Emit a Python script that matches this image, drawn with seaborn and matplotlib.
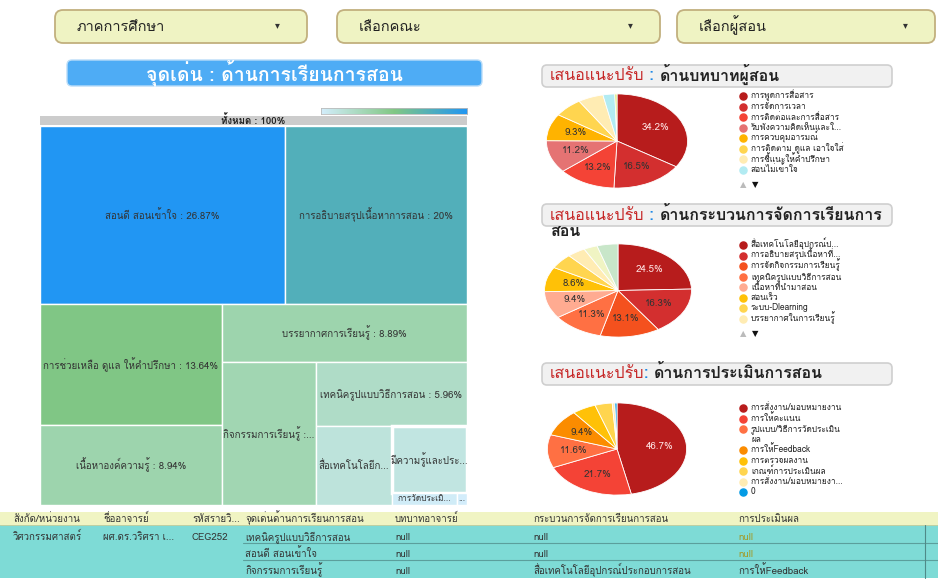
import matplotlib
matplotlib.use('Agg')
import matplotlib.pyplot as plt
from matplotlib import font_manager, ft2font
from matplotlib.patches import FancyBboxPatch, Rectangle
import numpy as np
import seaborn as sns

# ---- data ----
filters = ['ภาคการศึกษา', 'เลือกคณะ', 'เลือกผู้สอน']

tm_labels = ['สอนดี สอนเข้าใจ : 26.87%', 'การอธิบายสรุปเนื้อหาการสอน : 20%',
             'การช่วยเหลือ ดูแล ให้คำปรึกษา : 13.64%', 'เนื้อหาองค์ความรู้ : 8.94%',
             'บรรยากาศการเรียนรู้ : 8.89%', 'กิจกรรมการเรียนรู้ :...',
             'เทคนิครูปแบบวิธีการสอน : 5.96%', 'สื่อเทคโนโลยีก...',
             'มีความรู้และประ...', 'การวัดประเมิ...', '...']
tm_values = [26.87, 20, 13.64, 8.94, 8.89, 8.3, 5.96, 3.7, 3.1, 0.5, 0.08]

p1_labels = ['การพูดการสื่อสาร', 'การจัดการเวลา', 'การติดต่อและการสื่อสาร',
             'รับฟังความคิดเห็นและใ...', 'การควบคุมอารมณ์', 'การติดตาม ดูแล เอาใจใส่',
             'การชี้แนะให้คำปรึกษา', 'สอนไม่เข้าใจ', 'อื่นๆ']
p1_values = [34.2, 16.5, 13.2, 11.2, 9.3, 6.6, 5.8, 2.7, 0.5]
p1_colors = ['#b71c1c', '#d32f2f', '#f44336', '#e57373', '#ffb300', '#ffd54f',
             '#ffecb3', '#b2ebf2', '#dce775']

p2_labels = ['สื่อเทคโนโลยีอุปกรณ์ป...', 'การอธิบายสรุปเนื้อหาที่...',
             'การจัดกิจกรรมการเรียนรู้', 'เทคนิครูปแบบวิธีการสอน', 'เนื้อหาที่นำมาสอน',
             'สอนเร็ว', 'ระบบ-Dlearning', 'บรรยากาศในการเรียนรู้', 'อื่นๆ', 'อื่นๆ 2']
p2_values = [24.5, 16.3, 13.1, 11.3, 9.4, 8.6, 5.2, 4.0, 3.0, 4.6]
p2_colors = ['#b71c1c', '#d32f2f', '#f4511e', '#ff7043', '#ffab91', '#ffc107',
             '#ffd54f', '#ffecb3', '#f0f4c3', '#c8e6c9']

p3_labels = ['การสั่งงาน/มอบหมายงาน', 'การให้คะแนน', 'รูปแบบ/วิธีการวัดประเมิน\nผล',
             'การให้Feedback', 'การตรวจผลงาน', 'เกณฑ์การประเมินผล',
             'การสั่งงาน/มอบหมายงา...', '0']
p3_values = [46.7, 21.7, 11.6, 9.4, 5.5, 4.0, 0.6, 0.5]
p3_colors = ['#b71c1c', '#f44336', '#ff7043', '#fb8c00', '#ffc107', '#ffd54f',
             '#ffecb3', '#039be5']

tbl_cols = ['สังกัด/หน่วยงาน', 'ชื่ออาจารย์', 'รหัสรายวิ...', 'จุดเด่นด้านการเรียนการสอน',
            'บทบาทอาจารย์', 'กระบวนการจัดการเรียนการสอน', 'การประเมินผล']
tbl_rows = [['วิศวกรรมศาสตร์', 'ผศ.ดร.วริศรา เ...', 'CEG252', 'เทคนิครูปแบบวิธีการสอน', 'null', 'null', 'null'],
            ['', '', '', 'สอนดี สอนเข้าใจ', 'null', 'null', 'null'],
            ['', '', '', 'กิจกรรมการเรียนรู้', 'null', 'สื่อเทคโนโลยีอุปกรณ์ประกอบการสอน', 'การให้Feedback']]

# ---- fonts ----
sns.set_theme(style='white')


def thai_families():
    fams = []
    for f in font_manager.fontManager.ttflist:
        if f.name in fams:
            continue
        try:
            cmap = ft2font.FT2Font(f.fname).get_charmap()
        except Exception:
            continue
        if 0x0E01 in cmap and 0x0E48 in cmap:
            fams.append(f.name)
    return fams


thai = thai_families()
plt.rcParams['font.family'] = thai[:1] + ['DejaVu Sans']

W, H = 938, 581
fig = plt.figure(figsize=(W / 100, H / 100), dpi=100)
fig.patch.set_facecolor('white')


def place(x0, y0, x1, y1):
    return [x0 / W, 1 - y1 / H, (x1 - x0) / W, (y1 - y0) / H]


bg = fig.add_axes([0, 0, 1, 1])
bg.set_xlim(0, W)
bg.set_ylim(H, 0)
bg.axis('off')

# filter dropdowns
for name, (x0, x1) in zip(filters, [(55, 307), (337, 660), (677, 935)]):
    bg.add_patch(FancyBboxPatch((x0, 10), x1 - x0, 33, boxstyle='round,pad=0,rounding_size=8',
                                fc='#eff3c3', ec='#c2b07e', lw=1.3))
    bg.text(x0 + 22, 31, name, fontsize=10.5, color='#222222', va='baseline')
    bg.text(x1 - 30, 26, '▾', fontsize=7, color='#333333', va='center', ha='center')

# treemap title
bg.add_patch(FancyBboxPatch((67, 60), 415, 26, boxstyle='round,pad=0,rounding_size=5',
                            fc='#4eacf5', ec='#b9dcf8', lw=1))
bg.text(274, 80, 'จุดเด่น : ด้านการเรียนการสอน', fontsize=14, color='white',
        weight='bold', ha='center', va='baseline')

# treemap colour scale
vmin, vmax = min(tm_values), max(tm_values)
cmap = sns.blend_palette(['#d3edfb', '#81c784', '#2196f3'], as_cmap=True)
cax = fig.add_axes(place(321, 108, 467, 114))
cax.imshow(np.linspace(0, 1, 200)[None, :], aspect='auto', cmap=cmap)
cax.set_xticks([])
cax.set_yticks([])
for s in cax.spines.values():
    s.set_color('#bbbbbb')
    s.set_linewidth(0.6)

bg.add_patch(Rectangle((40, 116), 427, 9, fc='#cccccc', ec='none'))
bg.text(253, 120.5, 'ทั้งหมด : 100%', fontsize=7, weight='bold', color='#222222',
        ha='center', va='center')

# treemap: strips laid out in the order of the values
plan = [(2, 'row'), (2, 'col'), (1, 'row'), (1, 'col'), (1, 'row'), (1, 'col'), (1, 'row'), (2, 'row')]


def strip_layout(values, plan):
    x0, y0, w, h = 0.0, 0.0, 1.0, 1.0
    out, i = [], 0
    for n, kind in plan:
        grp = values[i:i + n]
        frac = sum(grp) / sum(values[i:])
        if kind == 'row':
            sh, cx = h * frac, x0
            for v in grp:
                cw = w * v / sum(grp)
                out.append((cx, y0, cw, sh))
                cx += cw
            y0, h = y0 + sh, h - sh
        else:
            sw, cy = w * frac, y0
            for v in grp:
                ch = h * v / sum(grp)
                out.append((x0, cy, sw, ch))
                cy += ch
            x0, w = x0 + sw, w - sw
        i += n
    return out


tax = fig.add_axes(place(40, 126, 467, 505))
tax.set_xlim(0, 1)
tax.set_ylim(1, 0)
tax.axis('off')
for (x, y, w, h), v, lab in zip(strip_layout(tm_values, plan), tm_values, tm_labels):
    t = (v - vmin) / (vmax - vmin)
    lw = 2.5 if lab.startswith('มีความรู้') else 1
    tax.add_patch(Rectangle((x, y), w, h, fc=cmap(t), ec='white', lw=lw))
    fs = 7 if h > 0.05 else 6
    tax.text(x + w / 2, y + h / 2, lab, fontsize=fs, color='#333333', ha='center', va='center')


# pies
def rich_text(x, y, parts, size):
    fig.canvas.draw()
    r = fig.canvas.get_renderer()
    for txt, col, wt in parts:
        t = bg.text(x, y, txt, color=col, weight=wt, fontsize=size, va='baseline')
        ext = t.get_window_extent(r)
        x = bg.transData.inverted().transform((ext.x1, ext.y0))[0]


def title_box(y0, lines, size=11.5):
    bg.add_patch(FancyBboxPatch((542, y0), 350, 22, boxstyle='round,pad=0,rounding_size=5',
                                fc='#f1f1f1', ec='#cfcfcf', lw=1.2))
    for j, parts in enumerate(lines):
        rich_text(550, y0 + 15.5 + j * 17, parts, size)


def pie_panel(box, values, colors, labels, leg_y, arrows=True):
    ax = fig.add_axes(place(*box))
    wedges, _ = ax.pie(values, colors=colors, startangle=90, counterclock=False,
                       wedgeprops=dict(edgecolor='white', linewidth=0.6))
    ax.set_aspect('auto')
    ax.set_xlim(-1.02, 1.02)
    ax.set_ylim(-1.02, 1.02)
    for k, (w, v) in enumerate(zip(wedges, values)):
        if v < 8:
            continue
        a = np.deg2rad((w.theta1 + w.theta2) / 2)
        ax.text(0.62 * np.cos(a), 0.62 * np.sin(a), f'{v}%', fontsize=7,
                color='#ffe4e4' if k == 0 else '#333333', ha='center', va='center')
    line = 0
    for lab, col in list(zip(labels, colors))[:8]:
        y = leg_y + line * 10.5
        bg.scatter([743], [y], s=26, color=col, zorder=3)
        for j, part in enumerate(lab.split('\n')):
            bg.text(751, y + j * 10.5 + 2.5, part, fontsize=6, color='#222222', va='baseline')
        line += lab.count('\n') + 1
    if arrows:
        ya = leg_y + 8 * 10.5 + 5
        bg.text(743, ya, '▲', fontsize=6, color='#bbbbbb', ha='center', va='center')
        bg.text(755, ya, '▼', fontsize=6, color='#111111', ha='center', va='center')


title_box(65, [[('เสนอแนะปรับ', '#c62828', 'normal'), (' : ', '#1e88e5', 'bold'),
                ('ด้านบทบาทผู้สอน', '#222222', 'bold')]])
pie_panel((545, 93, 689, 189), p1_values, p1_colors, p1_labels, 96)

title_box(204, [[('เสนอแนะปรับ', '#c62828', 'normal'), (' : ', '#1e88e5', 'bold'),
                 ('ด้านกระบวนการจัดการเรียนการ', '#222222', 'bold')],
                [('สอน', '#222222', 'bold')]])
pie_panel((543, 243, 693, 338), p2_values, p2_colors, p2_labels, 245)

title_box(363, [[('เสนอแนะปรับ', '#c62828', 'normal'), (': ', '#1e88e5', 'bold'),
                 ('ด้านการประเมินการสอน', '#222222', 'bold')]])
pie_panel((546, 402, 688, 496), p3_values, p3_colors, p3_labels, 408, arrows=False)

# table
col_x = [13, 103, 192, 245, 395, 533, 738]
bg.add_patch(Rectangle((0, 512), W, 13, fc='#f0f4c3', ec='none'))
bg.add_patch(Rectangle((0, 525), W, 53, fc='#7edbd6', ec='none'))
for yl in [542.5, 559.5]:
    bg.plot([243, W], [yl, yl], color='#5b9f9c', lw=0.8)
bg.plot([0, W], [525, 525], color='#c9cf9a', lw=0.6)
bg.plot([925, 925], [525, 578], color='#4f8a88', lw=0.8)
for cx, name in zip(col_x, tbl_cols):
    bg.text(cx, 522.5, name, fontsize=7, color='#333333', va='baseline')
for r, row in enumerate(tbl_rows):
    for c, (cx, val) in enumerate(zip(col_x, row)):
        col = '#a29a26' if (c == 6 and val == 'null') else '#333333'
        bg.text(cx, 540 + r * 17, val, fontsize=7, color=col, va='baseline')

fig.savefig('out.png', dpi=100)
